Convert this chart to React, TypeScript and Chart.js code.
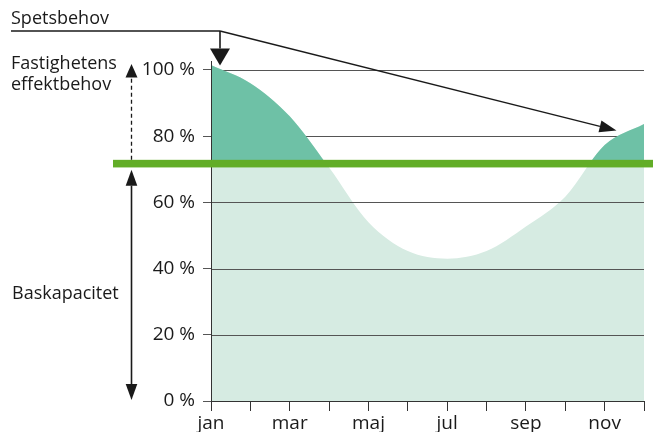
import { useEffect, useRef } from "react";
import { Chart, registerables } from "chart.js";

Chart.register(...registerables);

// ---- data ----
const months = ["jan", "feb", "mar", "apr", "maj", "jun", "jul", "aug", "sep", "okt", "nov", "dec"];
const demand = [101.5, 96, 86, 70.5, 54, 45.3, 43, 45.3, 52.7, 61.7, 77.3, 83.7];
const baseCapacity = 71.7;
const yTickValues = [0, 20, 40, 60, 80, 100];
const peakTarget = { index: 10.3, value: 81.7 };

const labelSpets = "Spetsbehov";
const labelEffekt = ["Fastighetens", "effektbehov"];
const labelBas = "Baskapacitet";

const DARK = "#6ec1a6";
const LIGHT = "#d6ebe2";
const GREEN = "#62ad27";
const INK = "#1a1a1a";
const FONT = '"Open Sans", sans-serif';

function arrowHead(ctx: CanvasRenderingContext2D, fx: number, fy: number, tx: number, ty: number, len: number, half: number) {
  const a = Math.atan2(ty - fy, tx - fx);
  const bx = tx - Math.cos(a) * len;
  const by = ty - Math.sin(a) * len;
  const px = -Math.sin(a) * half;
  const py = Math.cos(a) * half;
  ctx.beginPath();
  ctx.moveTo(tx, ty);
  ctx.lineTo(bx + px, by + py);
  ctx.lineTo(bx - px, by - py);
  ctx.closePath();
  ctx.fill();
  return { bx, by };
}

const gridPlugin = {
  id: "gridBetween",
  afterDatasetDraw(chart: any, args: any) {
    if (args.index !== 1) return;
    const { ctx, chartArea } = chart;
    const y = chart.scales.y;
    ctx.save();
    ctx.strokeStyle = "#555555";
    ctx.lineWidth = 1;
    yTickValues.forEach((v) => {
      if (v === 0) return;
      const py = Math.round(y.getPixelForValue(v)) + 0.5;
      ctx.beginPath();
      ctx.moveTo(chartArea.left, py);
      ctx.lineTo(chartArea.right, py);
      ctx.stroke();
    });
    ctx.restore();
  },
};

const annotationPlugin = {
  id: "annotations",
  afterDraw(chart: any) {
    const { ctx } = chart;
    const x = chart.scales.x;
    const y = chart.scales.y;
    const W = chart.width;
    ctx.save();

    // base capacity line
    const gy = y.getPixelForValue(baseCapacity);
    ctx.fillStyle = GREEN;
    ctx.fillRect(113, gy - 3.8, W - 113, 7.6);

    ctx.fillStyle = INK;
    ctx.strokeStyle = INK;
    ctx.font = `18px ${FONT}`;
    ctx.textBaseline = "alphabetic";
    ctx.textAlign = "left";
    ctx.fillText(labelSpets, 11, 24);
    ctx.fillText(labelEffekt[0], 11, 69);
    ctx.fillText(labelEffekt[1], 11, 90);
    ctx.fillText(labelBas, 12, 298.5);

    // Spetsbehov lines
    const cornerX = x.getPixelForValue(0) + 9;
    const cornerY = 31;
    ctx.lineWidth = 1.6;
    ctx.beginPath();
    ctx.moveTo(11, cornerY);
    ctx.lineTo(cornerX, cornerY);
    ctx.stroke();

    // diagonal to peak at end of year
    const i0 = Math.floor(peakTarget.index);
    const frac = peakTarget.index - i0;
    const tx = x.getPixelForValue(i0) + frac * (x.getPixelForValue(i0 + 1) - x.getPixelForValue(i0));
    const ty = y.getPixelForValue(peakTarget.value);
    const h1 = arrowHead(ctx, cornerX, cornerY, tx, ty, 17, 6);
    ctx.lineWidth = 1.4;
    ctx.beginPath();
    ctx.moveTo(cornerX, cornerY);
    ctx.lineTo(h1.bx, h1.by);
    ctx.stroke();

    // down arrow to January peak
    const dty = y.getPixelForValue(demand[0]) + 0.5;
    const h2 = arrowHead(ctx, cornerX, cornerY, cornerX, dty, 17, 10);
    ctx.lineWidth = 1.6;
    ctx.beginPath();
    ctx.moveTo(cornerX, cornerY);
    ctx.lineTo(cornerX, h2.by);
    ctx.stroke();

    // dashed arrow: effektbehov
    const ax = 131.5;
    const topTip = y.getPixelForValue(demand[0]) - 1;
    const h3 = arrowHead(ctx, ax, gy, ax, topTip, 13.5, 6);
    ctx.lineWidth = 1.3;
    ctx.setLineDash([4, 3]);
    ctx.beginPath();
    ctx.moveTo(ax, gy - 4);
    ctx.lineTo(ax, h3.by);
    ctx.stroke();
    ctx.setLineDash([]);

    // solid double arrow: baskapacitet
    const upTip = gy + 6;
    const downTip = y.getPixelForValue(0) - 1;
    const h4 = arrowHead(ctx, ax, downTip, ax, upTip, 16, 5.8);
    const h5 = arrowHead(ctx, ax, upTip, ax, downTip, 16, 5.8);
    ctx.lineWidth = 1.6;
    ctx.beginPath();
    ctx.moveTo(ax, h4.by);
    ctx.lineTo(ax, h5.by);
    ctx.stroke();

    ctx.restore();
  },
};

export default function App() {
  const ref = useRef<HTMLCanvasElement | null>(null);

  useEffect(() => {
    if (!ref.current) return;
    const chart = new Chart(ref.current, {
      type: "line",
      data: {
        labels: months,
        datasets: [
          {
            label: "peak",
            data: demand,
            borderWidth: 0,
            borderColor: "rgba(0,0,0,0)",
            pointRadius: 0,
            cubicInterpolationMode: "monotone",
            fill: { target: { value: baseCapacity }, above: DARK, below: "rgba(0,0,0,0)" },
          },
          {
            label: "base",
            data: demand,
            borderWidth: 0,
            borderColor: "rgba(0,0,0,0)",
            pointRadius: 0,
            cubicInterpolationMode: "monotone",
            fill: { target: "origin", above: LIGHT, below: LIGHT },
          },
        ] as any,
      },
      options: {
        responsive: false,
        animation: false,
        layout: { padding: { top: 61, right: 9, left: 0, bottom: 0 } },
        plugins: {
          legend: { display: false },
          tooltip: { enabled: false },
        },
        scales: {
          x: {
            type: "category",
            offset: false,
            grid: { drawOnChartArea: false, drawTicks: true, tickLength: 10, color: "#333" },
            border: { display: true, color: "#333", width: 1, z: 1 },
            ticks: {
              autoSkip: false,
              maxRotation: 0,
              padding: 1,
              color: INK,
              font: { family: FONT, size: 19 },
              callback: (_v: any, i: number) => (i % 2 === 0 ? months[i] : ""),
            },
            afterFit: (s: any) => {
              s.height = 31;
            },
          },
          y: {
            min: 0,
            max: 102.7,
            grid: { drawOnChartArea: false, drawTicks: true, tickLength: 8, color: "#555555" },
            border: { display: true, color: "#333", width: 1, z: 1 },
            afterBuildTicks: (s: any) => {
              s.ticks = yTickValues.map((v) => ({ value: v }));
            },
            ticks: {
              padding: 8,
              color: INK,
              font: { family: FONT, size: 19 },
              callback: (v: any) => `${v} %`,
            },
            afterFit: (s: any) => {
              s.width = 211;
            },
          },
        },
      } as any,
      plugins: [gridPlugin, annotationPlugin],
    });
    return () => chart.destroy();
  }, []);

  return (
    <div style={{ position: "absolute", left: 0, top: 0, width: 653, height: 432, background: "#fff" }}>
      <canvas ref={ref} width={653} height={432} style={{ display: "block" }} />
    </div>
  );
}
